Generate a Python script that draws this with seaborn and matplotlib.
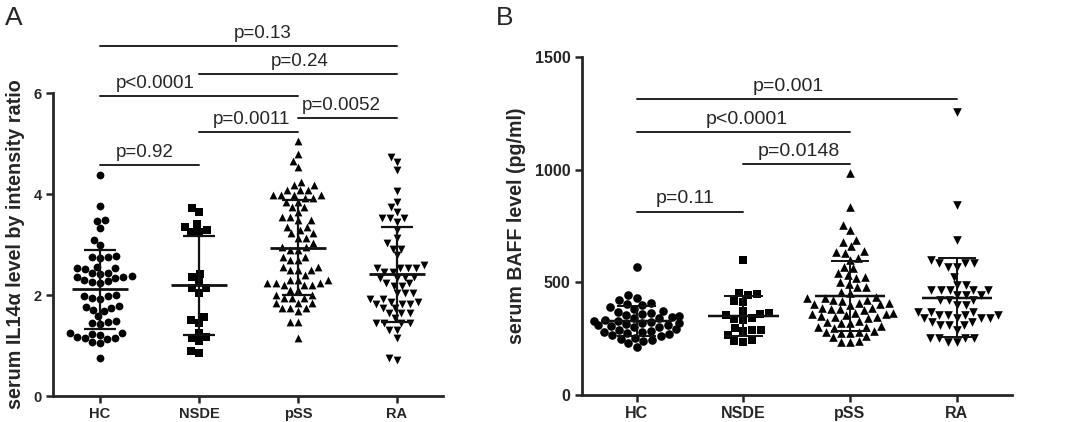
import numpy as np
import pandas as pd
import matplotlib
matplotlib.use("Agg")
import matplotlib.pyplot as plt
import seaborn as sns
import warnings
warnings.filterwarnings("ignore")

categories = ["HC", "NSDE", "pSS", "RA"]

# Panel A: serum IL14a level by intensity ratio
a_hc = [4.38, 3.77, 3.48, 3.46, 3.32, 3.09, 2.99, 2.77, 2.76, 2.75, 2.73, 2.56, 2.54,
        2.53, 2.52, 2.44, 2.43, 2.42, 2.37, 2.36, 2.35, 2.34, 2.30, 2.28, 2.25, 2.23,
        2.00, 1.99, 1.98, 1.94, 1.93, 1.78, 1.77, 1.75, 1.70, 1.69, 1.58, 1.48, 1.47,
        1.45, 1.43, 1.25, 1.24, 1.22, 1.21, 1.16, 1.15, 1.14, 1.12, 1.06, 1.05, 0.75]
a_nsde = [3.72, 3.65, 3.40, 3.35, 3.28, 3.25, 3.25, 2.42, 2.35, 2.26, 2.13, 2.13, 2.04,
          1.57, 1.50, 1.45, 1.25, 1.17, 1.15, 1.08, 0.90, 0.86]
a_pss = [5.04, 4.80, 4.66, 4.54, 4.24, 4.18, 4.18, 4.08, 4.08, 4.08, 3.98, 3.98, 3.98,
         3.98, 3.92, 3.92, 3.85, 3.85, 3.75, 3.75, 3.65, 3.55, 3.55, 3.49, 3.49, 3.35,
         3.35, 3.28, 3.22, 3.22, 3.13, 3.13, 3.03, 2.96, 2.96, 2.90, 2.90, 2.76, 2.76,
         2.69, 2.69, 2.56, 2.56, 2.49, 2.49, 2.49, 2.39, 2.30, 2.30, 2.30, 2.23, 2.23,
         2.23, 2.20, 2.20, 2.20, 2.10, 2.10, 2.00, 2.00, 1.94, 1.94, 1.94, 1.84, 1.84,
         1.84, 1.74, 1.74, 1.74, 1.68, 1.47, 1.47, 1.15]
a_ra = [4.74, 4.64, 4.48, 4.05, 3.85, 3.75, 3.65, 3.52, 3.52, 3.52, 3.45, 3.29, 3.12,
        3.03, 2.92, 2.92, 2.79, 2.59, 2.53, 2.53, 2.53, 2.53, 2.46, 2.46, 2.36, 2.36,
        2.33, 2.33, 2.23, 2.23, 2.17, 2.17, 2.03, 2.03, 2.03, 1.93, 1.93, 1.87, 1.87,
        1.83, 1.83, 1.83, 1.74, 1.74, 1.64, 1.64, 1.64, 1.54, 1.44, 1.44, 1.44, 1.44,
        1.31, 1.31, 1.14, 0.75, 0.71]

# Panel B: serum BAFF level (pg/ml)
b_hc = [570, 444, 430, 420, 410, 405, 400, 390, 380, 375, 370, 365, 360, 355, 350, 345,
        340, 340, 335, 330, 330, 325, 320, 320, 315, 310, 310, 305, 300, 300, 295, 290,
        285, 280, 280, 275, 270, 265, 260, 255, 250, 245, 240, 230, 215]
b_nsde = [600, 452, 448, 444, 418, 412, 372, 363, 360, 355, 340, 338, 333, 296, 290,
          288, 286, 267, 245, 240, 237]
b_pss = [984, 836, 754, 732, 690, 680, 660, 640, 636, 632, 610, 600, 570, 565, 540, 535,
         525, 520, 503, 495, 481, 478, 459, 455, 436, 432, 430, 422, 420, 418, 410, 408,
         405, 403, 400, 388, 385, 383, 380, 378, 365, 363, 360, 358, 355, 350, 348, 345,
         340, 328, 325, 322, 320, 305, 303, 300, 298, 283, 281, 279, 277, 275, 262, 258,
         240, 237, 235]
b_ra = [1259, 844, 689, 600, 585, 585, 585, 570, 570, 526, 489, 489, 467, 467, 467, 467,
        467, 444, 444, 444, 422, 422, 422, 400, 400, 370, 370, 370, 355, 355, 355, 355,
        340, 340, 340, 340, 326, 326, 311, 311, 311, 289, 252, 252, 252, 252, 237, 237]

a_ticks = [0, 2, 4, 6]
b_ticks = [0, 500, 1000, 1500]
a_label = "serum IL14\u03b1 level by intensity ratio"
b_label = "serum BAFF level (pg/ml)"

# brackets: (group1, group2, y, text, text x)
a_brackets = [(0, 3, 6.93, "p=0.13", 1.64),
              (1, 3, 6.38, "p=0.24", 2.02),
              (0, 2, 5.94, "p<0.0001", 0.56),
              (2, 3, 5.50, "p=0.0052", 2.44),
              (1, 2, 5.22, "p=0.0011", 1.53),
              (0, 1, 4.58, "p=0.92", 0.45)]
b_brackets = [(0, 3, 1314, "p=0.001", 1.42),
              (0, 2, 1167, "p<0.0001", 1.03),
              (1, 2, 1025, "p=0.0148", 1.52),
              (0, 1, 815, "p=0.11", 0.45)]

markers = ["o", "s", "^", "v"]

sns.set_style("ticks")
plt.rcParams["font.family"] = ["Liberation Sans", "DejaVu Sans"]

fig = plt.figure(figsize=(10.73, 4.22), dpi=100)
axA = fig.add_axes([0.0494, 0.0616, 0.3635, 0.718])
axB = fig.add_axes([0.5421, 0.064, 0.4008, 0.8002])


def panel(ax, groups, ticks, ylim, xlim, label, brackets, msize, mean_hw, cap_hw,
          lw_err, tick_fs, p_fs):
    df = pd.DataFrame({"group": np.repeat(categories, [len(g) for g in groups]),
                       "value": np.concatenate([np.asarray(g, float) for g in groups])})
    for cat, mk in zip(categories, markers):
        sns.swarmplot(data=df[df.group == cat], x="group", y="value", order=categories,
                      marker=mk, color="black", size=msize, linewidth=0, ax=ax, zorder=2)
    for i, g in enumerate(groups):
        m = np.mean(g)
        s = np.std(g, ddof=1)
        ax.hlines(m, i - mean_hw, i + mean_hw, color="#111111", lw=lw_err + 0.4, zorder=4)
        ax.hlines([m - s, m + s], i - cap_hw, i + cap_hw, color="#111111", lw=lw_err, zorder=4)
        ax.vlines(i, m - s, m + s, color="#111111", lw=lw_err, zorder=4)
    ax.set_ylim(*ylim)
    ax.set_xlim(*xlim)
    ax.set_yticks(ticks)
    ax.set_xlabel("")
    lab = ax.set_ylabel(label, fontsize=14, fontweight="bold", labelpad=6)
    for t in ax.get_xticklabels() + ax.get_yticklabels():
        t.set_fontweight("bold")
        t.set_fontsize(tick_fs)
    ax.tick_params(axis="both", width=1.8, length=5, pad=3)
    for sp in ["left", "bottom"]:
        ax.spines[sp].set_linewidth(2.0)
    sns.despine(ax=ax)
    for g1, g2, y, txt, tx in brackets:
        ax.plot([g1, g2], [y, y], color="#222222", lw=1.4, clip_on=False, zorder=3)
        ax.annotate(txt, xy=(tx, y), xytext=(0, 3), textcoords="offset points",
                    ha="center", va="bottom", fontsize=p_fs, annotation_clip=False)
    return lab


labA = panel(axA, [a_hc, a_nsde, a_pss, a_ra], a_ticks, (0, 6), (-0.475, 3.465), a_label,
             a_brackets, 5.6, 0.28, 0.16, 1.6, 10.5, 13.5)
labB = panel(axB, [b_hc, b_nsde, b_pss, b_ra], b_ticks, (0, 1500), (-0.515, 3.515), b_label,
             b_brackets, 6.2, 0.33, 0.18, 1.4, 11.5, 14)

# fit the y-label lengths to the reference (pixels along the text)
fig.canvas.draw()
r = fig.canvas.get_renderer()
for lab, target in [(labA, 330), (labB, 237)]:
    h = lab.get_window_extent(r).height
    lab.set_fontsize(14 * target / h)

fig.text(0.005, 0.985, "A", fontsize=19, va="top", ha="left")
fig.text(0.462, 0.985, "B", fontsize=19, va="top", ha="left")

fig.savefig("out.png", dpi=100)
